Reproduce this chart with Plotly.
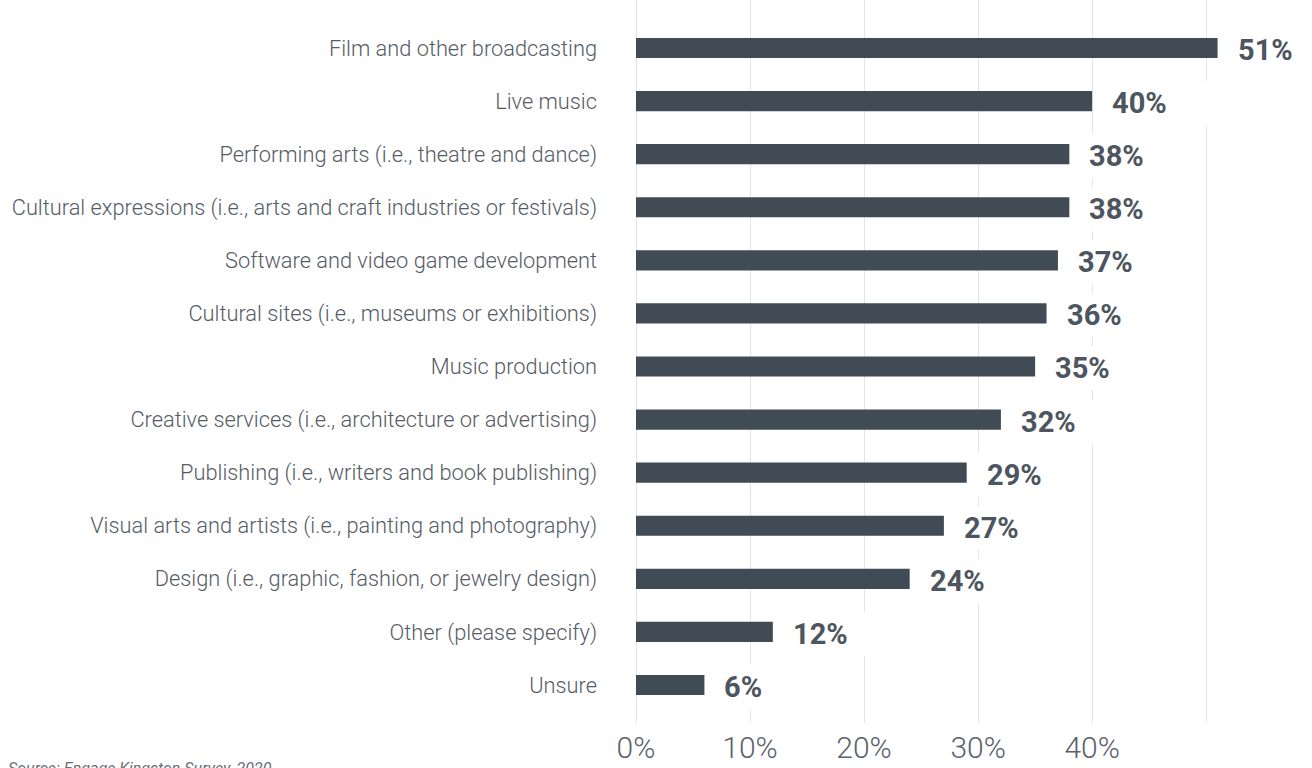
import plotly.graph_objects as go

categories = [
    "Film and other broadcasting",
    "Live music",
    "Performing arts (i.e., theatre and dance)",
    "Cultural expressions (i.e., arts and craft industries or festivals)",
    "Software and video game development",
    "Cultural sites (i.e., museums or exhibitions)",
    "Music production",
    "Creative services (i.e., architecture or advertising)",
    "Publishing (i.e., writers and book publishing)",
    "Visual arts and artists (i.e., painting and photography)",
    "Design (i.e., graphic, fashion, or jewelry design)",
    "Other (please specify)",
    "Unsure",
]
shares = [51, 40, 38, 38, 37, 36, 35, 32, 29, 27, 24, 12, 6]
tick_values = [0, 10, 20, 30, 40, 50]
tick_labels = ["0%", "10%", "20%", "30%", "40%", ""]
source_note = "Source: Engage Kingston Survey, 2020"

BAR = "#414b55"
TEXT = "#4d5560"
GRID = "#e4e4e4"
FONT = "Roboto"

W, H = 1312, 768
ML, MR, MT, MB = 636, 26, 0, 45

fig = go.Figure(
    go.Bar(
        x=shares,
        y=categories,
        orientation="h",
        marker=dict(color=BAR, line=dict(width=0)),
        width=0.38,
        hoverinfo="skip",
    )
)

# value labels sit on white boxes that interrupt the gridlines
for cat, v in zip(categories, shares):
    fig.add_annotation(
        x=v, y=cat, xref="x", yref="y",
        text=f"{v}%",
        showarrow=False,
        xanchor="left", yanchor="middle",
        xshift=10, yshift=-2,
        width=95, height=24, align="left",
        borderpad=10, borderwidth=0,
        bgcolor="white",
        font=dict(family=FONT, size=29, color=TEXT, weight="bold"),
    )

# source note, placed in page pixels
fig.add_annotation(
    x=(6 - ML) / (W - ML - MR), y=(H - 757 - MB) / (H - MT - MB),
    xref="paper", yref="paper",
    text=source_note, showarrow=False,
    xanchor="left", yanchor="top",
    font=dict(family=FONT, size=16, color="#6a6f76", style="italic"),
)

n = len(categories)
fig.update_layout(
    width=W, height=H,
    margin=dict(l=ML, r=MR, t=MT, b=MB),
    paper_bgcolor="white", plot_bgcolor="white",
    showlegend=False,
    xaxis=dict(
        range=[0, 57],
        tickvals=tick_values,
        ticktext=tick_labels,
        showgrid=True, gridcolor=GRID, gridwidth=1,
        zeroline=True, zerolinecolor=GRID, zerolinewidth=1,
        showline=False, ticks="",
        tickfont=dict(family=FONT, size=30, color="#5a616b", weight=300),
        ticklabelstandoff=4,
        automargin=False,
    ),
    yaxis=dict(
        type="category",
        categoryorder="array", categoryarray=categories,
        range=[n - 1 + 0.716, -0.904],
        showgrid=False, zeroline=False, showline=False, ticks="",
        tickfont=dict(family=FONT, size=21.8, color="#555c65", weight=300),
        ticklabelstandoff=38,
        automargin=False,
    ),
)

fig.write_html("out.html")
